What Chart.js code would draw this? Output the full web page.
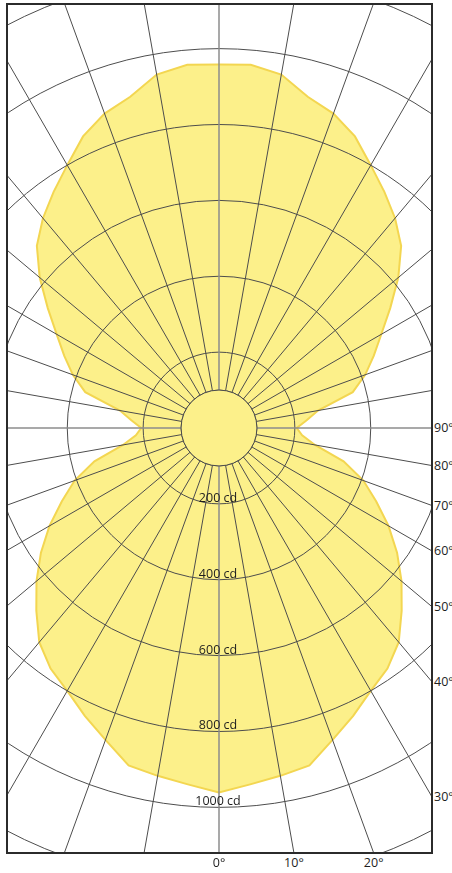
<!DOCTYPE html>
<html>
<head>
<meta charset="utf-8">
<script src="https://cdn.jsdelivr.net/npm/chart.js@4.4.1/dist/chart.umd.min.js"></script>
<style>
    html, body { margin: 0; padding: 0; background: #fff; }
    body { width: 452px; height: 873px; overflow: hidden; position: relative; font-family: "Open Sans", sans-serif; color: #1e1e1e; }
    #frame { position: absolute; left: 6px; top: 3px; width: 423px; height: 847px; border: 2px solid #2b2b2b; overflow: hidden; }
    #frame canvas { position: absolute; left: -267px; top: -55px; }
    .lbl { position: absolute; font-size: 12.5px; line-height: 1; white-space: nowrap; }
</style>
</head>
<body>
<div id="frame"><canvas id="lightChart" width="956" height="956" style="width:956px;height:956px"></canvas></div>
<script>
// gamma angle (0 = straight down, 180 = straight up) and luminous intensity in cd
const gammaDeg = [0, 5, 10, 15, 20, 25, 30, 35, 40, 45, 50, 55, 60, 65, 70, 75, 80, 85, 90,
    95, 100, 105, 110, 115, 120, 125, 130, 135, 140, 145, 150, 155, 160, 165, 170, 175, 180];
const intensityCd = [961, 943, 931, 921, 875, 837, 800, 774, 737, 681, 628, 573, 516, 457, 405, 340, 257, 220, 205,
    232, 265, 365, 410, 450, 494, 551, 617, 679, 722, 760, 800, 848, 882, 904, 946, 961, 958];

const ringValues = [100, 200, 400, 600, 800, 1000, 1200];
const ringLabels = [200, 400, 600, 800, 1000];
const angleLabels = [0, 10, 20, 30, 40, 50, 60, 70, 80, 90];

const STEP = 5;
const HOLE_CD = 100;
const FILL = '#fcf08a';

// full turn, clockwise from the nadir; both half planes use the same profile
const spokeLabels = [];
const spokeValues = [];
for (let a = 0; a < 360; a += STEP) {
    const gamma = a <= 180 ? a : 360 - a;
    spokeLabels.push(a + '°');
    spokeValues.push(intensityCd[gammaDeg.indexOf(gamma)]);
}

const centreHole = {
    id: 'centreHole',
    afterDraw(chart) {
        const r = chart.scales.r;
        const ctx = chart.ctx;
        ctx.save();
        ctx.beginPath();
        ctx.arc(r.xCenter, r.yCenter, r.getDistanceFromCenterForValue(HOLE_CD), 0, Math.PI * 2);
        ctx.fillStyle = FILL;
        ctx.fill();
        ctx.strokeStyle = '#4d4d4d';
        ctx.lineWidth = 1;
        ctx.stroke();
        ctx.restore();
    },
};

const chart = new Chart(document.getElementById('lightChart'), {
    type: 'radar',
    data: {
        labels: spokeLabels,
        datasets: [{
            data: spokeValues,
            backgroundColor: FILL,
            borderColor: '#f3d651',
            borderWidth: 2,
            pointRadius: 0,
            tension: 0,
            fill: true,
        }],
    },
    options: {
        responsive: false,
        animation: false,
        layout: { padding: 0 },
        plugins: {
            legend: { display: false },
            tooltip: { enabled: false },
        },
        scales: {
            r: {
                min: 0,
                max: 1260,
                startAngle: 180,
                ticks: { display: false, stepSize: 100, z: 1 },
                pointLabels: { display: false },
                grid: {
                    z: 1,
                    circular: true,
                    lineWidth: 1,
                    color: (ctx) => ringValues.includes(ctx.tick && ctx.tick.value) ? '#4d4d4d' : 'transparent',
                },
                angleLines: {
                    lineWidth: (ctx) => (ctx.index % 18 === 0 ? 1.5 : 1),
                    color: (ctx) => {
                        if (ctx.index % 18 === 0) return '#8c8c8c';
                        return ctx.index % 2 === 0 ? '#4d4d4d' : 'transparent';
                    },
                },
            },
        },
    },
    plugins: [centreHole],
});

// text labels, placed from the scale geometry
const scale = chart.scales.r;
const canvasEl = document.getElementById('lightChart');
const frameEl = document.getElementById('frame');
const fx = frameEl.offsetLeft + frameEl.clientLeft + canvasEl.offsetLeft;
const fy = frameEl.offsetTop + frameEl.clientTop + canvasEl.offsetTop;
const cx = fx + scale.xCenter;
const cy = fy + scale.yCenter;
const rightEdge = frameEl.offsetLeft + frameEl.offsetWidth - 1;
const bottomEdge = frameEl.offsetTop + frameEl.offsetHeight - 1;

function addLabel(text, x, y, transform) {
    const el = document.createElement('div');
    el.className = 'lbl';
    el.textContent = text;
    el.style.left = x + 'px';
    el.style.top = y + 'px';
    el.style.transform = transform;
    document.body.appendChild(el);
}

ringLabels.forEach((v) => {
    addLabel(v + ' cd', cx - 1, cy + scale.getDistanceFromCenterForValue(v), 'translate(-50%, -100%)');
});

angleLabels.forEach((deg) => {
    const rad = deg * Math.PI / 180;
    const dx = Math.sin(rad);
    const dy = Math.cos(rad);
    const tRight = dx > 1e-6 ? (rightEdge - cx) / dx : Infinity;
    const tBottom = dy > 1e-6 ? (bottomEdge - cy) / dy : Infinity;
    if (tBottom <= tRight) {
        addLabel(deg + '°', cx + tBottom * dx, bottomEdge + 4, 'translateX(-50%)');
    } else {
        addLabel(deg + '°', rightEdge + 2, cy + tRight * dy, 'translateY(-50%)');
    }
});
</script>
</body>
</html>
